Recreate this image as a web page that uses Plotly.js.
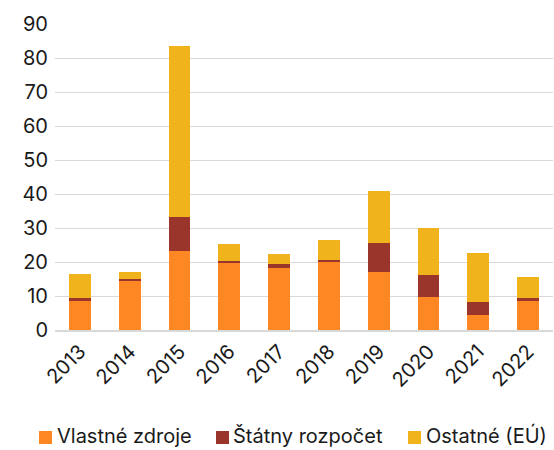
<!DOCTYPE html>
<html>
<head>
<meta charset="utf-8">
<script src="https://cdn.plot.ly/plotly-3.0.1.min.js"></script>
<style>html,body{margin:0;padding:0;background:#fff;}#chart{width:554px;height:450px;}</style>
</head>
<body>
<div id="chart"></div>
<script>
const years = ['2013','2014','2015','2016','2017','2018','2019','2020','2021','2022'];
const vlastneZdroje = [8.6, 14.5, 23.1, 19.8, 18.1, 20.0, 17.0, 9.6, 4.3, 8.5];
const statnyRozpocet = [0.9, 0.5, 10.1, 0.6, 1.3, 0.6, 8.5, 6.6, 3.8, 0.9];
const ostatneEU = [7.1, 2.1, 50.3, 4.8, 3.1, 5.9, 15.4, 13.7, 14.5, 6.2];
const seriesNames = ['Vlastné zdroje', 'Štátny rozpočet', 'Ostatné (EÚ)'];
const seriesColors = ['#FD8823', '#9A352B', '#F1B31B'];

const allSeries = [vlastneZdroje, statnyRozpocet, ostatneEU];
const traces = allSeries.map((vals, i) => ({
  type: 'bar',
  x: years,
  y: vals,
  name: seriesNames[i],
  marker: {color: seriesColors[i]},
  hoverinfo: 'x+y+name'
}));

const W = 554, H = 450, ML = 55, MR = 1, MT = 24, MB = 120;
const PW = W - ML - MR, PH = H - MT - MB;
const px2x = p => (p - ML) / PW;
const py2y = p => (H - MB - p) / PH;

const font = 'Inter, Roboto, sans-serif';
const textColor = '#1a1a1a';

// custom legend (squares tight against the labels, as in the reference)
const legendSquareX = [39, 216, 408];
const legendTextX = [56, 232, 425];
const shapes = [], annotations = [];
seriesNames.forEach((name, i) => {
  shapes.push({
    type: 'rect', xref: 'paper', yref: 'paper',
    x0: px2x(legendSquareX[i]), x1: px2x(legendSquareX[i] + 13),
    y0: py2y(444), y1: py2y(431),
    fillcolor: seriesColors[i], line: {width: 0}
  });
  annotations.push({
    xref: 'paper', yref: 'paper',
    x: px2x(legendTextX[i]), y: py2y(449),
    xanchor: 'left', yanchor: 'bottom', showarrow: false, borderpad: 0,
    text: name, font: {family: font, size: 20, color: textColor}
  });
});

const layout = {
  width: W, height: H,
  barmode: 'stack',
  bargap: 0.56,
  margin: {l: ML, r: MR, t: MT, b: MB},
  paper_bgcolor: '#fff', plot_bgcolor: '#fff',
  font: {family: font, size: 20, color: textColor},
  showlegend: false,
  shapes: shapes,
  annotations: annotations,
  xaxis: {
    type: 'category',
    tickangle: -45,
    showgrid: false,
    showline: true, linecolor: '#d9d9d9', linewidth: 2,
    ticks: '', tickfont: {family: font, size: 20, color: textColor},
    automargin: false,
    fixedrange: true
  },
  yaxis: {
    range: [0, 90],
    dtick: 10,
    showgrid: true, gridcolor: '#d9d9d9', gridwidth: 1,
    zeroline: false, showline: false,
    ticks: '', ticklabelstandoff: 6,
    tickfont: {family: font, size: 20, color: textColor},
    automargin: false,
    fixedrange: true
  }
};

Plotly.newPlot('chart', traces, layout, {displayModeBar: false, staticPlot: true});
</script>
</body>
</html>
